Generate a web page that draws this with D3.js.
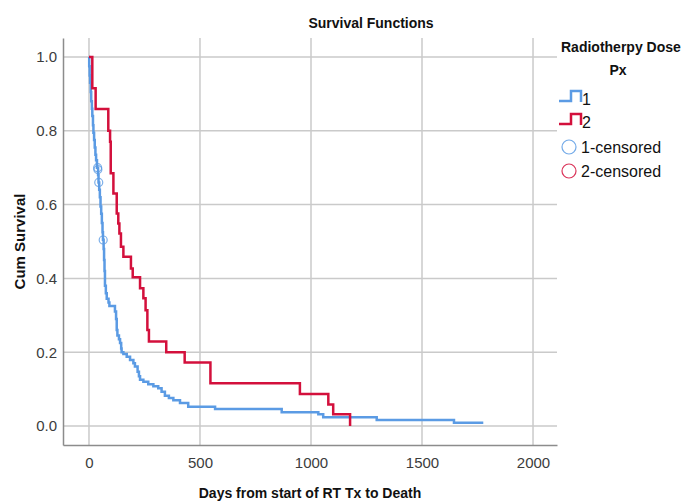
<!DOCTYPE html>
<html>
<head>
<meta charset="utf-8">
<script src="https://cdn.jsdelivr.net/npm/d3@7"></script>
<style>
  body { margin: 0; background: #fff; }
  svg { display: block; font-family: Arial, "Liberation Sans", sans-serif; }
</style>
</head>
<body>
<svg id="chart" width="686" height="502"></svg>
<script>
// group 1 (blue) event times and survival after each step
const g1Times = [1, 3, 5, 8, 10, 13, 15, 18, 20, 23, 26, 29, 32, 36, 41, 43, 46, 49, 52, 55, 58, 61, 63, 66, 68, 70, 72,
  76, 80, 88, 92, 117, 122, 125, 128, 135, 140, 145, 147, 155, 170, 185, 200, 207, 219, 225, 230, 245, 267, 290, 312,
  327, 342, 360, 380, 410, 447, 568, 868, 1033, 1055, 1296, 1644, 1776];
const g1Surv = [0.975, 0.95, 0.93, 0.905, 0.88, 0.86, 0.84, 0.815, 0.795, 0.775, 0.755, 0.735, 0.72, 0.70, 0.68, 0.66,
  0.64, 0.62, 0.595, 0.575, 0.55, 0.525, 0.505, 0.48, 0.45, 0.42, 0.38,
  0.36, 0.345, 0.335, 0.325, 0.31, 0.29, 0.26, 0.245, 0.235, 0.225, 0.21, 0.20, 0.195, 0.188, 0.179, 0.17, 0.161, 0.147,
  0.135, 0.125, 0.12, 0.113, 0.108, 0.102, 0.093, 0.082, 0.076, 0.07, 0.062, 0.052, 0.046, 0.037, 0.032, 0.024, 0.016,
  0.009, 0.009];
// censored cases in group 1
const g1CensTimes = [39, 40, 44, 64];
const g1CensSurv = [0.70, 0.695, 0.66, 0.504];

// group 2 (red)
const g2Times = [15, 30, 87, 95, 98, 110, 125, 132, 137, 144, 155, 189, 197, 230, 245, 255, 263, 270, 348, 431, 547,
  950, 1078, 1100, 1176];
const g2Surv = [0.915, 0.859, 0.80, 0.77, 0.685, 0.63, 0.576, 0.549, 0.522, 0.486, 0.459, 0.427, 0.403, 0.373, 0.346,
  0.314, 0.26, 0.229, 0.20, 0.172, 0.116, 0.087, 0.058, 0.032, 0.0];

const xTicks = [0, 500, 1000, 1500, 2000];
const yTicks = [0, 0.2, 0.4, 0.6, 0.8, 1.0];
const legendLabels = ["1", "2", "1-censored", "2-censored"];

const blue = "#5b9be4";
const red = "#d3103c";

const svg = d3.select("#chart");
const mLeft = 63, mRight = 557, mTop = 38, mBottom = 445;

const x = d3.scaleLinear().domain([-117, 2108]).range([mLeft, mRight]);
const y = d3.scaleLinear().domain([-0.0515, 1.0515]).range([mBottom, mTop]);

// grid
svg.append("g")
  .selectAll("line")
  .data(yTicks)
  .join("line")
  .attr("x1", mLeft).attr("x2", mRight)
  .attr("y1", d => y(d)).attr("y2", d => y(d))
  .attr("stroke", "#cacaca").attr("stroke-width", 1.5);

svg.append("g")
  .selectAll("line")
  .data(xTicks)
  .join("line")
  .attr("x1", d => x(d)).attr("x2", d => x(d))
  .attr("y1", mTop).attr("y2", mBottom)
  .attr("stroke", "#cacaca").attr("stroke-width", 1.5);

// axes
const xAxis = svg.append("g")
  .attr("transform", `translate(0,${mBottom})`)
  .call(d3.axisBottom(x).tickValues(xTicks).tickSize(0).tickPadding(12).tickFormat(d3.format("d")));
const yAxis = svg.append("g")
  .attr("transform", `translate(${mLeft},0)`)
  .call(d3.axisLeft(y).tickValues(yTicks).tickSize(0).tickPadding(6).tickFormat(d3.format(".1f")));

[xAxis, yAxis].forEach(a => {
  a.select(".domain").attr("stroke", "#8c8c8c").attr("stroke-width", 1.5);
  a.selectAll("text").attr("font-size", 15).attr("fill", "#3c3c3c")
    .attr("font-family", "Arial, 'Liberation Sans', sans-serif");
});

// survival curves
const line = d3.line().x(d => x(d[0])).y(d => y(d[1])).curve(d3.curveStepAfter);

const g1Pts = [[0, 1]].concat(g1Times.map((t, i) => [t, g1Surv[i]]));
const g2Pts = [[0, 1]].concat(g2Times.map((t, i) => [t, g2Surv[i]]));

svg.append("path").datum(g1Pts).attr("d", line)
  .attr("fill", "none").attr("stroke", blue).attr("stroke-width", 2.5);
svg.append("path").datum(g2Pts).attr("d", line)
  .attr("fill", "none").attr("stroke", red).attr("stroke-width", 2.5);

// censor marks
svg.append("g")
  .selectAll("circle")
  .data(g1CensTimes.map((t, i) => [t, g1CensSurv[i]]))
  .join("circle")
  .attr("cx", d => x(d[0])).attr("cy", d => y(d[1]))
  .attr("r", 4)
  .attr("fill", "none").attr("stroke", blue).attr("stroke-width", 1.2).attr("opacity", 0.8);

// titles
svg.append("text")
  .attr("x", 371).attr("y", 28)
  .attr("text-anchor", "middle")
  .attr("font-size", 14).attr("font-weight", "bold").attr("fill", "#111")
  .text("Survival Functions");

svg.append("text")
  .attr("x", (mLeft + mRight) / 2).attr("y", 498)
  .attr("text-anchor", "middle")
  .attr("font-size", 14).attr("font-weight", "bold").attr("fill", "#111")
  .text("Days from start of RT Tx to Death");

svg.append("text")
  .attr("transform", `translate(25,${(mTop + mBottom) / 2}) rotate(-90)`)
  .attr("text-anchor", "middle")
  .attr("font-size", 15).attr("font-weight", "bold").attr("fill", "#111")
  .text("Cum Survival");

// legend
const lg = svg.append("g");
lg.append("text").attr("x", 561).attr("y", 52)
  .attr("font-size", 14).attr("font-weight", "bold").attr("fill", "#111")
  .text("Radiotherpy Dose");
lg.append("text").attr("x", 618).attr("y", 75).attr("text-anchor", "middle")
  .attr("font-size", 14).attr("font-weight", "bold").attr("fill", "#111")
  .text("Px");

const itemY = [99, 122, 147, 171];
const itemColor = [blue, red, blue, red];
legendLabels.forEach((lab, i) => {
  const cy = itemY[i];
  if (i < 2) {
    lg.append("path")
      .attr("d", `M559,${cy + 2}H571V${cy - 8}H581V${cy + 3}`)
      .attr("fill", "none").attr("stroke", itemColor[i]).attr("stroke-width", 2.5);
  } else {
    lg.append("circle").attr("cx", 569).attr("cy", cy).attr("r", 7)
      .attr("fill", "none").attr("stroke", itemColor[i]).attr("stroke-width", 1.2).attr("opacity", 0.85);
  }
  lg.append("text").attr("x", i < 2 ? 582 : 581).attr("y", cy + 6)
    .attr("font-size", 16).attr("fill", "#111")
    .text(lab);
});
</script>
</body>
</html>
